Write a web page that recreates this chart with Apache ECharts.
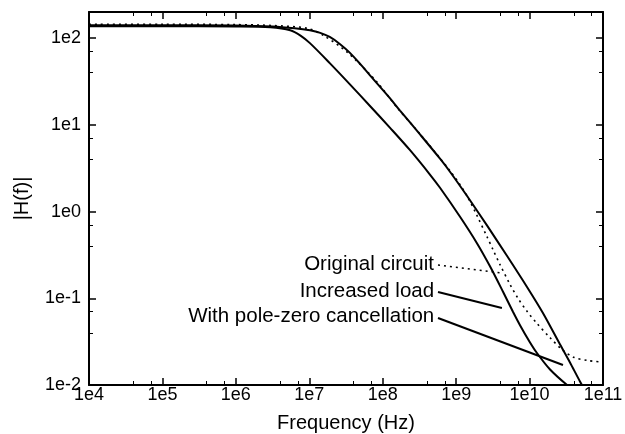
<!DOCTYPE html>
<html><head><meta charset="utf-8">
<script src="https://cdn.jsdelivr.net/npm/echarts@6/dist/echarts.min.js"></script>
<style>html,body{margin:0;padding:0;background:#fff}#c{width:625px;height:434px}</style>
</head><body><div id="c"></div>
<script>
// ---- tick labels ----
const xTickLabels = ['1e4','1e5','1e6','1e7','1e8','1e9','1e10','1e11'];
const yTickLabels = ['1e-2','1e-1','1e0','1e1','1e2'];
const seriesNames = ['Original circuit','Increased load','With pole-zero cancellation'];

// ---- Original circuit (dotted) ----
const freqOrig = [1e4, 1e5, 1e6, 3.16e6, 9.33e6, 1.54e7, 3.27e7, 8.36e7, 1.57e8, 3.22e8, 6.03e8, 8.24e8, 1.13e9, 1.41e9, 1.92e9, 2.63e9, 3.18e9, 3.95e9, 5.41e9, 6.95e9, 9.23e9, 1.26e10, 1.9e10, 2.85e10, 3.98e10, 6.31e10, 1e11];
const magOrig  = [144.5, 144.5, 143, 139.6, 130, 108, 69, 31.1, 15.8, 7.85, 4.12, 2.95, 2.04, 1.51, 0.902, 0.513, 0.363, 0.245, 0.145, 0.100, 0.0708, 0.0513, 0.0351, 0.0251, 0.0209, 0.0191, 0.0184];

// ---- Increased load ----
const freqLoad = [1e4, 1e5, 1e6, 2.95e6, 5.5e6, 7.59e6, 1.02e7, 1.9e7, 3.55e7, 6.76e7, 1.26e8, 2.34e8, 4.37e8, 6.03e8, 1.13e9, 1.92e9, 2.89e9, 4.35e9, 5.94e9, 7.41e9, 1e10, 1.26e10, 1.9e10, 3.24e10, 5.01e10];
const magLoad  = [137, 137, 136, 133, 123, 107, 87.5, 51.5, 29.5, 16.4, 9.23, 5.13, 2.69, 1.88, 0.871, 0.432, 0.234, 0.119, 0.070, 0.049, 0.0316, 0.0234, 0.0151, 0.0100, 0.00759];

// ---- With pole-zero cancellation ----
const freqPZ = [1e4, 1e5, 1e6, 3.16e6, 6.31e6, 1.02e7, 1.41e7, 1.9e7, 2.63e7, 3.58e7, 4.9e7, 6.71e7, 1.26e8, 1.72e8, 3.22e8, 6.03e8, 8.24e8, 1.41e9, 2.63e9, 4.92e9, 9.23e9, 1.52e10, 2.59e10, 3.55e10, 4.86e10, 7.08e10];
const magPZ  = [141, 141, 140, 136.5, 130, 123, 115, 103, 85.1, 67.6, 50.7, 37.2, 20.2, 14.6, 7.76, 4.07, 2.88, 1.51, 0.692, 0.309, 0.135, 0.0676, 0.0295, 0.0182, 0.0110, 0.0063];

// ---- label leader lines (data units: [freq, |H|]) ----
const leaderOrig = [[5.66e8, 0.2415], [4.2e9, 0.1954]];
const leaderLoad = [[5.66e8, 0.118], [4.2e9, 0.0773]];
const leaderPZ   = [[5.66e8, 0.0592], [2.85e10, 0.0170]];

const FONT = 'Liberation Sans, Arial, sans-serif';
const pairs = (xs, ys) => xs.map((x, i) => [x, ys[i]]);
const xFmt = v => xTickLabels[Math.round(Math.log10(v)) - 4] || '';
const yFmt = v => yTickLabels[Math.round(Math.log10(v)) + 2] || '';

function axisBase(extra) {
  return Object.assign({
    type: 'log', logBase: 10,
    axisLine: { show: true, onZero: false, lineStyle: { color: '#000', width: 2 } },
    axisTick: { show: true, inside: true, length: 7, lineStyle: { color: '#000', width: 1.5 } },
    minorTick: { show: true, splitNumber: 3, length: 4, lineStyle: { color: '#000', width: 1 } },
    splitLine: { show: false }, minorSplitLine: { show: false }
  }, extra);
}

const solid = { color: '#000', width: 2, type: 'solid' };
const dotted = { color: '#000', width: 1.6, type: [2, 4] };

function leader(pts, name, style) {
  return {
    silent: true, symbol: ['none', 'none'], animation: false,
    lineStyle: style,
    label: { show: true, position: 'start', formatter: name, fontSize: 20.5, color: '#000', fontFamily: FONT, distance: 4 },
    emphasis: { disabled: true },
    data: [[{ coord: pts[0] }, { coord: pts[1] }]]
  };
}

const chart = echarts.init(document.getElementById('c'), null, { renderer: 'canvas' });
chart.setOption({
  animation: false,
  backgroundColor: '#fff',
  grid: { left: 89, right: 22, top: 12, bottom: 49, containLabel: false, outerBoundsMode: 'none' },
  xAxis: [
    axisBase({ position: 'bottom', min: 1e4, max: 1e11,
      axisLabel: { formatter: xFmt, fontSize: 18, color: '#000', fontFamily: FONT, margin: 1 },
      name: 'Frequency (Hz)', nameLocation: 'middle', nameGap: 28,
      nameTextStyle: { fontSize: 20, color: '#000', fontFamily: FONT } }),
    axisBase({ position: 'top', min: 1e4, max: 1e11, axisLabel: { show: false } })
  ],
  yAxis: [
    axisBase({ position: 'left', min: 0.01, max: 200,
      axisLabel: { formatter: yFmt, fontSize: 18, color: '#000', fontFamily: FONT, margin: 8, showMaxLabel: false },
      name: '|H(f)|', nameLocation: 'middle', nameGap: 57, nameRotate: 90,
      nameTextStyle: { fontSize: 20, color: '#000', fontFamily: FONT } }),
    axisBase({ position: 'right', min: 0.01, max: 200, axisLabel: { show: false } })
  ],
  series: [
    { name: seriesNames[0], type: 'line', data: pairs(freqOrig, magOrig), showSymbol: false, smooth: 0.3, clip: true,
      lineStyle: dotted, markLine: leader(leaderOrig, seriesNames[0], dotted) },
    { name: seriesNames[1], type: 'line', data: pairs(freqLoad, magLoad), showSymbol: false, smooth: 0.3, clip: true,
      lineStyle: solid, markLine: leader(leaderLoad, seriesNames[1], solid) },
    { name: seriesNames[2], type: 'line', data: pairs(freqPZ, magPZ), showSymbol: false, smooth: 0.3, clip: true,
      lineStyle: solid, markLine: leader(leaderPZ, seriesNames[2], solid) }
  ]
});
</script></body></html>
